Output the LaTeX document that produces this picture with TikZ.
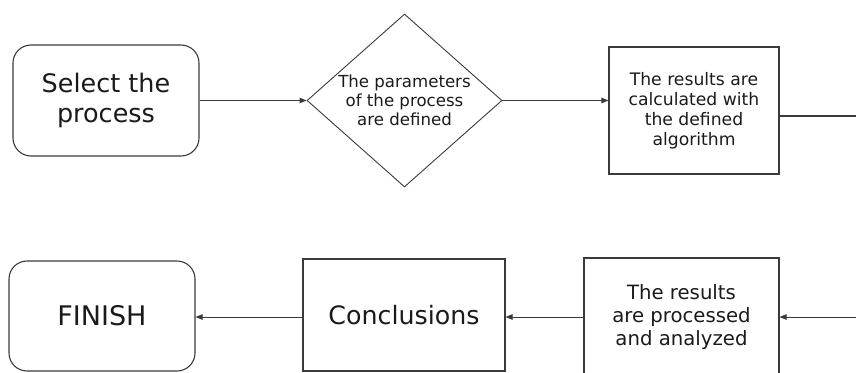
\documentclass[tikz,border=0pt]{standalone}
\usepackage{fontspec}
\setmainfont{DejaVu Sans}
\usetikzlibrary{shapes.geometric,arrows.meta}
\definecolor{linec}{HTML}{3A3A3A}
\definecolor{textc}{HTML}{1A1A1A}
\begin{document}
\begin{tikzpicture}[x=1pt,y=-1pt,
  every node/.style={text=textc, align=center, inner sep=0pt},
  roundbox/.style={draw=linec, line width=1.1pt, rounded corners=18pt},
  sqbox/.style={draw=linec, line width=1.1pt},
  decision/.style={draw=linec, line width=0.9pt, diamond},
  conn/.style={draw=linec, line width=0.9pt, -{Triangle[length=7pt,width=5.5pt]}},
  plain/.style={draw=linec, line width=1.1pt},
  bigfont/.style={font=\fontsize{25.5}{30}\selectfont},
  midfont/.style={font=\fontsize{19.7}{23}\selectfont},
  smallfont/.style={font=\fontsize{16.6}{19}\selectfont}]
\useasboundingbox (0,0) rectangle (856,372);
\clip (0,0) rectangle (856,372);
\node[roundbox, bigfont, minimum width=186pt, minimum height=111pt] (a) at (106,100.5) {Select the\\process};
\node[decision, minimum width=195pt, minimum height=173pt] (b) at (404.5,100.5) {};
\node[smallfont] (bt) at (b.center) {The parameters\\of the process\\are defined};
\node[sqbox, font=\fontsize{17.2}{20}\selectfont, minimum width=170pt, minimum height=127pt] (c) at (694,110.5) {The results are\\calculated with\\the defined\\algorithm};
\coordinate (cout) at (860,116);
\coordinate (din) at (860,317);
\node[sqbox, midfont, minimum width=195pt, minimum height=118pt] (d) at (681.5,317) {The results\\are processed\\and analyzed};
\node[sqbox, font=\fontsize{25.3}{30}\selectfont, minimum width=202pt, minimum height=112pt] (e) at (404,315) {Conclusions};
\node[roundbox, font=\fontsize{27}{32}\selectfont, minimum width=186pt, minimum height=110pt] (f) at (102,316) {FINISH};
\draw[conn] (a.east) -- (b.west);
\draw[conn] (b.east) -- (b.east -| c.west);
\draw[plain] (c.east |- cout) -- (cout);
\draw[conn] (din) -- (din -| d.east);
\draw[conn] (d.west |- din) -- (din -| e.east);
\draw[conn] (e.west |- din) -- (din -| f.east);
\end{tikzpicture}
\end{document}
